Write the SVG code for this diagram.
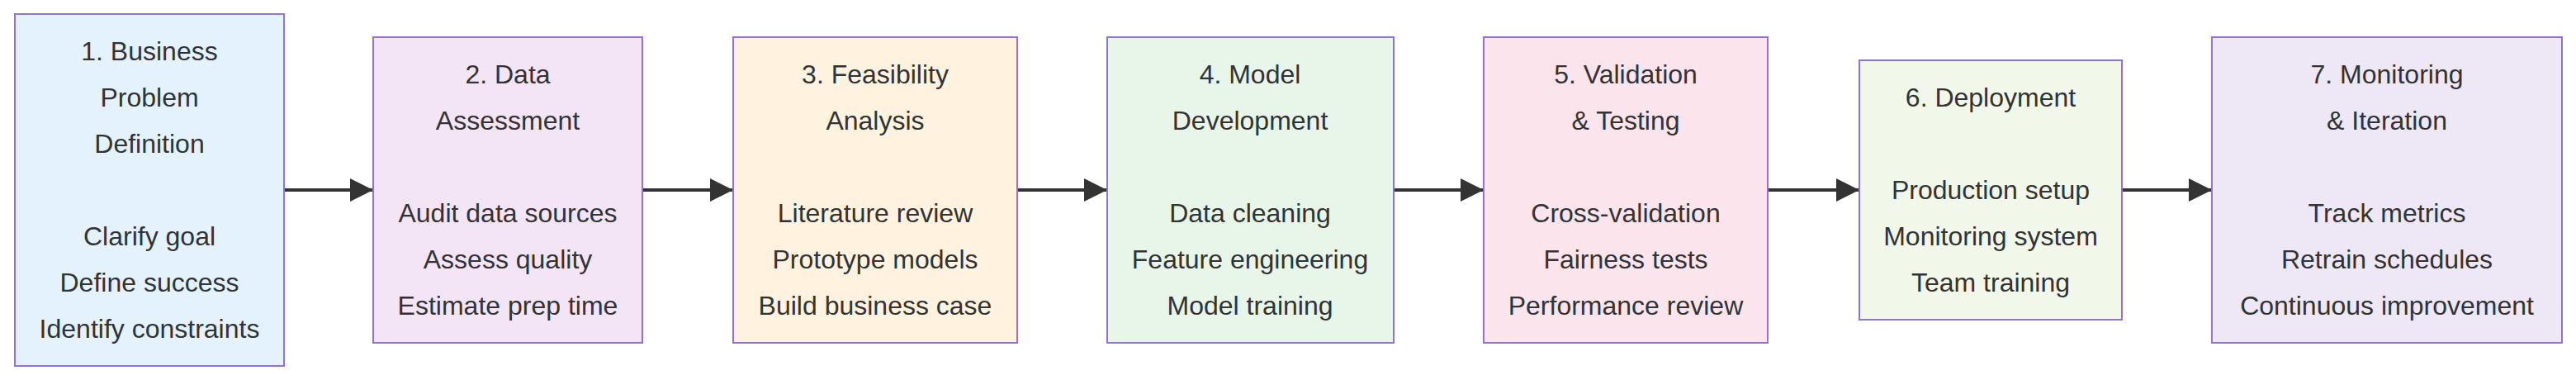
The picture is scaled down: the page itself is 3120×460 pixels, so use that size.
<svg xmlns="http://www.w3.org/2000/svg" width="3120" height="460" viewBox="0 0 3120 460">
<style>
.n{stroke:#9370db;stroke-width:2}
text{font-family:"Liberation Sans",Arial,sans-serif;font-size:32px;fill:#333;text-anchor:middle;dominant-baseline:central}
.e{stroke:#333;stroke-width:4;fill:none}
</style>
<defs><marker id="a" viewBox="0 0 10 10" refX="10" refY="5" markerWidth="7" markerHeight="7" markerUnits="userSpaceOnUse" orient="auto"><path d="M0,0L10,5L0,10z" fill="#333"/></marker>
<marker id="ah" viewBox="0 0 28 28" refX="28" refY="14" markerWidth="28" markerHeight="28" markerUnits="userSpaceOnUse" orient="auto"><path d="M0,0L28,14L0,28z" fill="#333"/></marker></defs>
<g id="edges">
<line class="e" x1="344" y1="230" x2="452" y2="230" marker-end="url(#ah)"/>
<line class="e" x1="778" y1="230" x2="888" y2="230" marker-end="url(#ah)"/>
<line class="e" x1="1232" y1="230" x2="1341" y2="230" marker-end="url(#ah)"/>
<line class="e" x1="1688" y1="230" x2="1797" y2="230" marker-end="url(#ah)"/>
<line class="e" x1="2141" y1="230" x2="2252" y2="230" marker-end="url(#ah)"/>
<line class="e" x1="2570" y1="230" x2="2679" y2="230" marker-end="url(#ah)"/>
</g>
<g id="n1"><rect class="n" x="18" y="17" width="326" height="426" fill="#e3f2fd"/>
<text x="181" y="62">1. Business</text><text x="181" y="118">Problem</text><text x="181" y="174">Definition</text><text x="181" y="286">Clarify goal</text><text x="181" y="342">Define success</text><text x="181" y="398">Identify constraints</text></g>
<g id="n2"><rect class="n" x="452" y="45" width="326" height="370" fill="#f3e5f5"/>
<text x="615" y="90">2. Data</text><text x="615" y="146">Assessment</text><text x="615" y="258">Audit data sources</text><text x="615" y="314">Assess quality</text><text x="615" y="370">Estimate prep time</text></g>
<g id="n3"><rect class="n" x="888" y="45" width="344" height="370" fill="#fff3e0"/>
<text x="1060" y="90">3. Feasibility</text><text x="1060" y="146">Analysis</text><text x="1060" y="258">Literature review</text><text x="1060" y="314">Prototype models</text><text x="1060" y="370">Build business case</text></g>
<g id="n4"><rect class="n" x="1341" y="45" width="347" height="370" fill="#e8f5e9"/>
<text x="1514" y="90">4. Model</text><text x="1514" y="146">Development</text><text x="1514" y="258">Data cleaning</text><text x="1514" y="314">Feature engineering</text><text x="1514" y="370">Model training</text></g>
<g id="n5"><rect class="n" x="1797" y="45" width="344" height="370" fill="#fce4ec"/>
<text x="1969" y="90">5. Validation</text><text x="1969" y="146">&amp; Testing</text><text x="1969" y="258">Cross-validation</text><text x="1969" y="314">Fairness tests</text><text x="1969" y="370">Performance review</text></g>
<g id="n6"><rect class="n" x="2252" y="73" width="318" height="314" fill="#f1f8e9"/>
<text x="2411" y="118">6. Deployment</text><text x="2411" y="230">Production setup</text><text x="2411" y="286">Monitoring system</text><text x="2411" y="342">Team training</text></g>
<g id="n7"><rect class="n" x="2679" y="45" width="424" height="370" fill="#ede7f6"/>
<text x="2891" y="90">7. Monitoring</text><text x="2891" y="146">&amp; Iteration</text><text x="2891" y="258">Track metrics</text><text x="2891" y="314">Retrain schedules</text><text x="2891" y="370">Continuous improvement</text></g>
</svg>
